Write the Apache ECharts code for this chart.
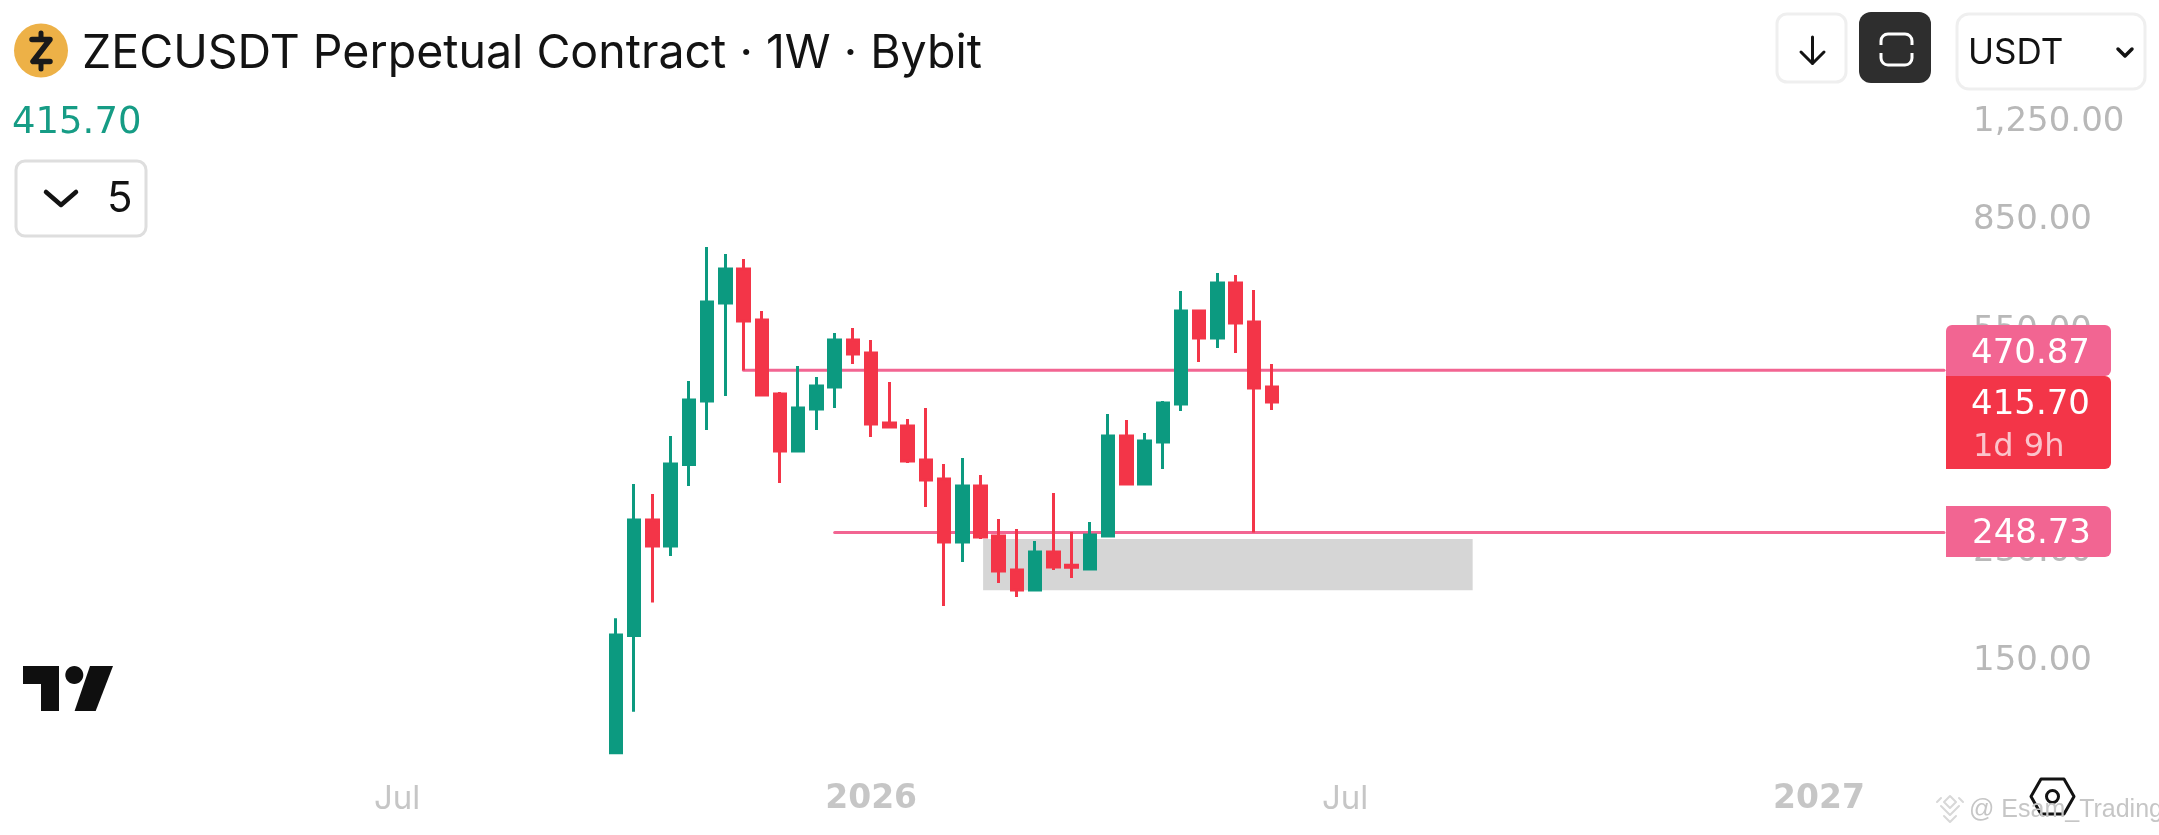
<!DOCTYPE html>
<html><head><meta charset="utf-8">
<style>html,body{margin:0;padding:0;background:#fff}#c{width:2159px;height:835px}</style>
<script src="https://cdn.jsdelivr.net/npm/echarts@6/dist/echarts.min.js"></script>
</head><body><div id="c"></div>
<script>
const weeks = ['2025-09-22','2025-09-29','2025-10-06','2025-10-13','2025-10-20','2025-10-27','2025-11-03','2025-11-10','2025-11-17','2025-11-24','2025-12-01','2025-12-08','2025-12-15','2025-12-22','2025-12-29','2026-01-05','2026-01-12','2026-01-19','2026-01-26','2026-02-02','2026-02-09','2026-02-16','2026-02-23','2026-03-02','2026-03-09','2026-03-16','2026-03-23','2026-03-30','2026-04-06','2026-04-13','2026-04-20','2026-04-27','2026-05-04','2026-05-11','2026-05-18','2026-05-25','2026-06-01'];
const opens  = [104.5,165.7,261.2,235.8,324.8,417.3,613.8,701.7,574.1,429.0,342.7,404.4,441.0,530.6,504.1,382.7,378.2,330.8,307.0,239.5,298.6,245.3,214.5,198.3,230.3,218.5,215.4,245.3,363.6,301.0,355.1,412.4,594.8,534.8,664.0,569.5,441.0];
const closes = [166.1,261.2,235.8,325.7,419.0,616.2,701.7,571.8,427.3,342.7,406.0,442.7,530.6,502.1,381.2,376.7,329.5,305.8,239.5,298.6,244.3,213.7,198.3,230.3,217.1,216.8,246.2,363.6,301.0,356.5,414.0,594.8,534.8,664.0,567.3,439.2,415.7];
const lows   = [104.5,122.8,188.65,226.7,298.6,372.3,425.6,470.87,427.3,302.2,342.7,372.3,406.0,482.8,362.2,375.2,326.9,274.9,186.2,221.4,242.4,203.8,192.9,198.3,214.5,207.9,215.4,245.3,301.0,301.0,319.3,401.2,486.6,514.1,504.1,248.73,402.8];
const highs  = [177.4,301.0,289.4,363.6,451.5,765.2,744.4,729.9,594.8,432.4,479.0,458.7,545.4,556.3,530.6,449.7,388.8,406.0,325.7,333.4,311.8,262.3,252.1,240.5,290.5,249.2,259.2,396.5,387.2,367.9,417.3,643.5,597.1,690.7,685.3,646.0,482.8];

const resistancePrice = 470.87, resistanceStart = '2025-11-10';
const supportPrice = 248.73, supportStart = '2025-12-15';
const zoneHigh = 242.4, zoneLow = 198.0, zoneStart = '2026-02-10', zoneEnd = '2026-08-17';
const axisStart = '2025-02-03', axisEnd = '2027-02-14';
const priceMin = 97.6, priceMax = 1945;
const priceTicks = [150, 230, 350, 550, 850, 1250];
const timeTicks = ['2025-06-30','2025-12-29','2026-06-29','2026-12-28'];
const timeLabels = ['Jul','2026','Jul','2027'];

const GREEN='#0C9A80', RED='#F33548', PINK='#F26592', GRAY='#B8B8B8';
const F='Inter, "Noto Sans", sans-serif', N='"DejaVu Sans", sans-serif';
const T=(x,y,text,fill,size,weight,fam)=>({type:'text',z:100,style:{x,y,text,fill,font:(weight||400)+' '+size+'px '+(fam||F),textAlign:'left',textVerticalAlign:'middle'}});
const R=(x,y,w,h,r,fill,stroke,lw,z)=>({type:'rect',z:z||90,shape:{x,y,width:w,height:h,r},style:{fill:fill||'none',stroke:stroke||'none',lineWidth:lw||0}});
const PL=(pts,stroke,lw,close,fill)=>({type:close?'polygon':'polyline',z:100,shape:{points:pts},style:{stroke:stroke||'none',lineWidth:lw||0,fill:fill||'none',lineCap:'round',lineJoin:'round'}});

const graphics=[
 {type:'circle',z:100,shape:{cx:41,cy:50.5,r:27},style:{fill:'#EDB147'}},
 PL([[41,33],[41,38]],'#1A1A1A',5),
 PL([[41,64],[41,69]],'#1A1A1A',5),
 PL([[32,39.5],[50,39.5],[33,61.5],[50,61.5]],'#1A1A1A',5.5),
 T(82,54,'ZECUSDT Perpetual Contract · 1W · Bybit','#131313',46.5),
 T(12,123,'415.70','#169C85',37,400,N),
 R(16,161,130,75,9,'#fff','#DEDEDE',3),
 PL([[46,192],[61,205],[76,192]],'#131313',4.5),
 T(107,199,'5','#131313',42),
 R(1777,14,69,68,10,'#fff','#EFEFEF',3),
 PL([[1812.5,37],[1812.5,63]],'#131313',3),
 PL([[1801,52],[1812.5,63.5],[1824,52]],'#131313',3),
 R(1859,12,72,71,12,'#2E2E2E'),
 R(1881,34,31,31,7,null,'#fff',3,95),
 R(1877,45,39,8,0,'#2E2E2E',null,0,96),
 R(1957,14,188,75,12,'#fff','#EFEFEF',3),
 T(1968,53,'USDT','#131313',35),
 PL([[2118,49],[2125,56],[2132,49]],'#131313',3.5),
 R(1946,325,165,51,[6,6,6,0],PINK),
 T(1971,354,'470.87','#fff',34,400,N),
 R(1946,376,165,93,[0,6,6,0],RED),
 T(1971,405.5,'415.70','#fff',34,400,N),
 T(1973,447.5,'1d 9h','#FBC3CB',32,400,N),
 R(1946,506,165,51,[0,6,6,0],PINK),
 T(1972,534.5,'248.73','#fff',34,400,N),
 PL([[23,666],[59,666],[59,711],[41,711],[41,684],[23,684]],null,0,true,'#0F0F0F'),
 {type:'ellipse',z:100,shape:{cx:74.3,cy:675,rx:9,ry:9},style:{fill:'#0F0F0F'}},
 PL([[90,666],[113,666],[95.7,711],[74.6,711]],null,0,true,'#0F0F0F'),
 PL([[2041,779],[2064,779],[2074,796.5],[2064,814],[2041,814],[2031,796.5]],'#131313',3,true),
 {type:'circle',z:100,shape:{cx:2052.5,cy:796.5,r:6},style:{fill:'none',stroke:'#131313',lineWidth:3}},
 PL([[1950,796],[1956,802],[1950,808],[1944,802]],'#D8D8D8',2,true),
 PL([[1941,806],[1950,815],[1959,806]],'#D8D8D8',2),
 PL([[1937,802],[1941,798]],'#D8D8D8',2),
 PL([[1959,798],[1963,802]],'#D8D8D8',2),
 PL([[1944,816],[1950,822],[1956,816]],'#D8D8D8',2),
 T(1969,810,'@ Esam_Trading','#C6C6C6',25,400,'"Liberation Sans", sans-serif')
];

const chart = echarts.init(document.getElementById('c'),null,{renderer:'canvas',width:2159,height:835});
chart.setOption({
 animation:false,backgroundColor:'#fff',
 grid:{left:14.4,right:215,top:10,bottom:65},
 xAxis:{type:'time',min:axisStart,max:axisEnd,axisLine:{show:false},axisTick:{show:false},splitLine:{show:false},axisLabel:{show:false}},
 yAxis:{type:'log',logBase:10,min:priceMin,max:priceMax,position:'right',axisLine:{show:false},axisTick:{show:false},splitLine:{show:false},
   axisLabel:{customValues:priceTicks,margin:29,color:GRAY,fontFamily:N,fontSize:34,hideOverlap:false,padding:[3,0,0,0],
     formatter:v=>Number(v).toLocaleString('en-US',{minimumFractionDigits:2,maximumFractionDigits:2})}},
 series:[
  {type:'line',z:1,showSymbol:false,silent:true,lineStyle:{color:PINK,width:3,cap:'round'},data:[[resistanceStart,resistancePrice],[axisEnd,resistancePrice]],
   markArea:{silent:true,itemStyle:{color:'#D6D6D6'},data:[[{xAxis:zoneStart,yAxis:zoneHigh},{xAxis:zoneEnd,yAxis:zoneLow}]]}},
  {type:'line',z:1,showSymbol:false,silent:true,lineStyle:{color:PINK,width:3,cap:'round'},data:[[supportStart,supportPrice],[axisEnd,supportPrice]]},
  {type:'candlestick',z:3,barWidth:12,silent:true,
   itemStyle:{color:GREEN,color0:RED,borderColor:GREEN,borderColor0:RED,borderWidth:3},
   data:weeks.map((w,i)=>[w,opens[i],closes[i],lows[i],highs[i]])},
  {type:'scatter',z:4,silent:true,clip:false,symbolSize:1,itemStyle:{color:'transparent'},
   data:timeTicks.map((t,i)=>[t,priceMin,timeLabels[i]]),
   label:{show:true,position:'bottom',distance:12,
     formatter:p=>(/^\d+$/.test(p.value[2])?'{y|':'{m|')+p.value[2]+'}',
     rich:{m:{color:GRAY,fontFamily:F,fontSize:33,fontWeight:400},y:{color:GRAY,fontFamily:N,fontSize:33,fontWeight:700}}}}
 ],
 graphic:{elements:graphics}
});
</script></body></html>
